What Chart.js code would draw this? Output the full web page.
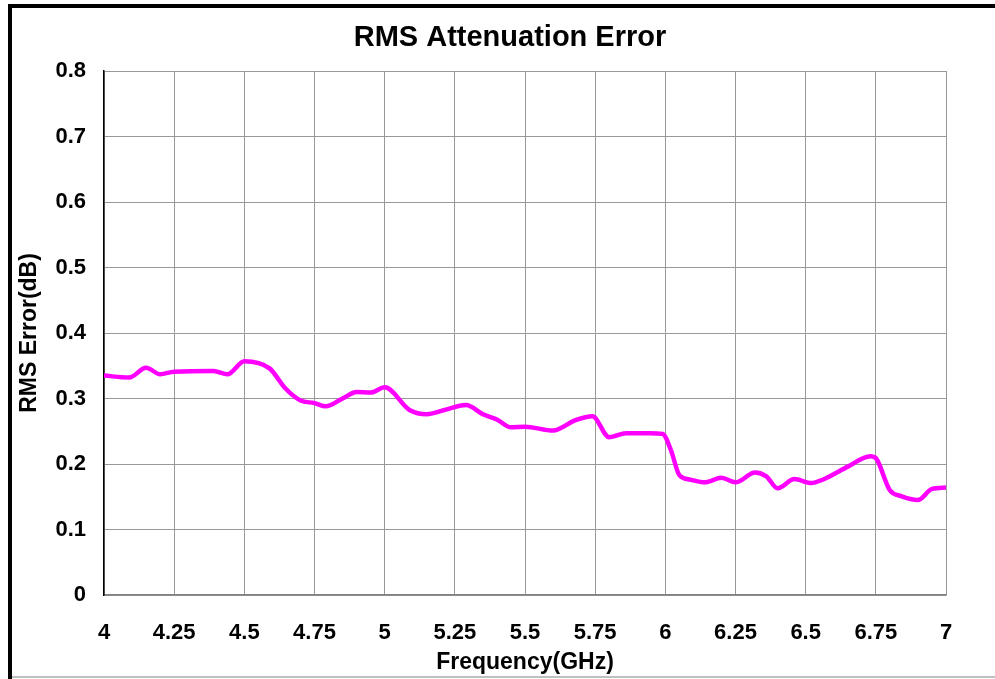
<!DOCTYPE html>
<html>
<head>
<meta charset="utf-8">
<script src="https://cdn.jsdelivr.net/npm/chart.js@4/dist/chart.umd.min.js"></script>
<style>
  html, body { margin: 0; padding: 0; background: #fff; }
  canvas { display: block; }
</style>
</head>
<body>
<canvas id="rms-chart" width="995" height="679"></canvas>
<script>
// frequency points (GHz) and RMS attenuation error (dB)
const freqGHz = [
  4, 4.09, 4.15, 4.2, 4.25, 4.39, 4.44, 4.5, 4.59, 4.645,
  4.7, 4.75, 4.79, 4.85, 4.9, 4.95, 5.0, 5.09, 5.15, 5.21,
  5.29, 5.35, 5.4, 5.45, 5.5, 5.6, 5.68, 5.74, 5.8, 5.86,
  5.945, 5.99, 6.02, 6.05, 6.09, 6.14, 6.2, 6.25, 6.32, 6.36,
  6.4, 6.46, 6.52, 6.56, 6.65, 6.73, 6.75, 6.8, 6.84, 6.9,
  6.95, 7.0
]
const rmsError = [
  0.335, 0.332, 0.347, 0.337, 0.341, 0.342, 0.337, 0.357, 0.346, 0.316,
  0.297, 0.293, 0.288, 0.300, 0.310, 0.309, 0.317, 0.282, 0.276, 0.282,
  0.290, 0.276, 0.268, 0.256, 0.257, 0.251, 0.267, 0.273, 0.241, 0.247,
  0.247, 0.246, 0.221, 0.183, 0.176, 0.172, 0.179, 0.172, 0.187, 0.181,
  0.163, 0.177, 0.171, 0.176, 0.196, 0.212, 0.209, 0.160, 0.151, 0.145,
  0.162, 0.164
]
const xTicks = [4, 4.25, 4.5, 4.75, 5, 5.25, 5.5, 5.75, 6, 6.25, 6.5, 6.75, 7]
const yTicks = [0, 0.1, 0.2, 0.3, 0.4, 0.5, 0.6, 0.7, 0.8]

const titleText = 'RMS Attenuation Error'
const FONT = "'Liberation Sans', Arial, sans-serif"

// outer frame + title, drawn like the Excel chart box
const framePlugin = {
  id: 'frame',
  afterDraw(chart) {
    const ctx = chart.ctx
    ctx.save()
    ctx.fillStyle = '#000'
    ctx.fillRect(8, 4, chart.width - 8, 4)
    ctx.fillRect(8, 4, 4, chart.height - 4)
    ctx.fillStyle = '#c0c0c0'
    ctx.fillRect(12, chart.height - 3, chart.width - 12, 2)
    ctx.fillStyle = '#000'
    ctx.font = `bold 29px ${FONT}`
    ctx.textAlign = 'center'
    ctx.textBaseline = 'middle'
    ctx.fillText(titleText, 510, 38)
    ctx.restore()
  }
}

new Chart(document.getElementById('rms-chart'), {
  type: 'scatter',
  data: {
    datasets: [{
      label: 'RMS Error',
      data: freqGHz.map((f, i) => ({ x: f, y: rmsError[i] })),
      showLine: true,
      borderColor: '#ff00ff',
      borderWidth: 4.5,
      pointRadius: 0,
      cubicInterpolationMode: 'monotone',
      fill: false
    }]
  },
  options: {
    responsive: false,
    animation: false,
    layout: { padding: { left: 12, right: 49, top: 71, bottom: 1 } },
    plugins: {
      legend: { display: false },
      tooltip: { enabled: false }
    },
    scales: {
      x: {
        type: 'linear',
        min: 4,
        max: 7,
        afterBuildTicks(axis) { axis.ticks = xTicks.map((v) => ({ value: v })) },
        ticks: {
          padding: 25,
          maxRotation: 0,
          autoSkip: false,
          color: '#000',
          font: { family: FONT, size: 22, weight: 'bold' },
          callback: (v) => String(v)
        },
        grid: { color: '#999', lineWidth: 1, drawTicks: false },
        border: { color: '#808080', width: 1.5 },
        title: {
          display: true,
          text: 'Frequency(GHz)',
          color: '#000',
          padding: { top: 0, bottom: 2 },
          font: { family: FONT, size: 23, weight: 'bold' }
        },
        afterFit(axis) { axis.height = 83 }
      },
      y: {
        type: 'linear',
        min: 0,
        max: 0.8,
        afterBuildTicks(axis) { axis.ticks = yTicks.map((v) => ({ value: v })) },
        ticks: {
          padding: 18,
          color: '#000',
          font: { family: FONT, size: 22, weight: 'bold' },
          callback: (v) => String(+v.toFixed(1))
        },
        grid: { color: '#999', lineWidth: 1, drawTicks: false },
        border: { color: '#000', width: 1.5 },
        title: {
          display: true,
          text: 'RMS Error(dB)',
          color: '#000',
          padding: { top: 4, bottom: 0 },
          font: { family: FONT, size: 23, weight: 'bold' }
        },
        afterFit(axis) { axis.width = 92 }
      }
    }
  },
  plugins: [framePlugin]
})
</script>
</body>
</html>
